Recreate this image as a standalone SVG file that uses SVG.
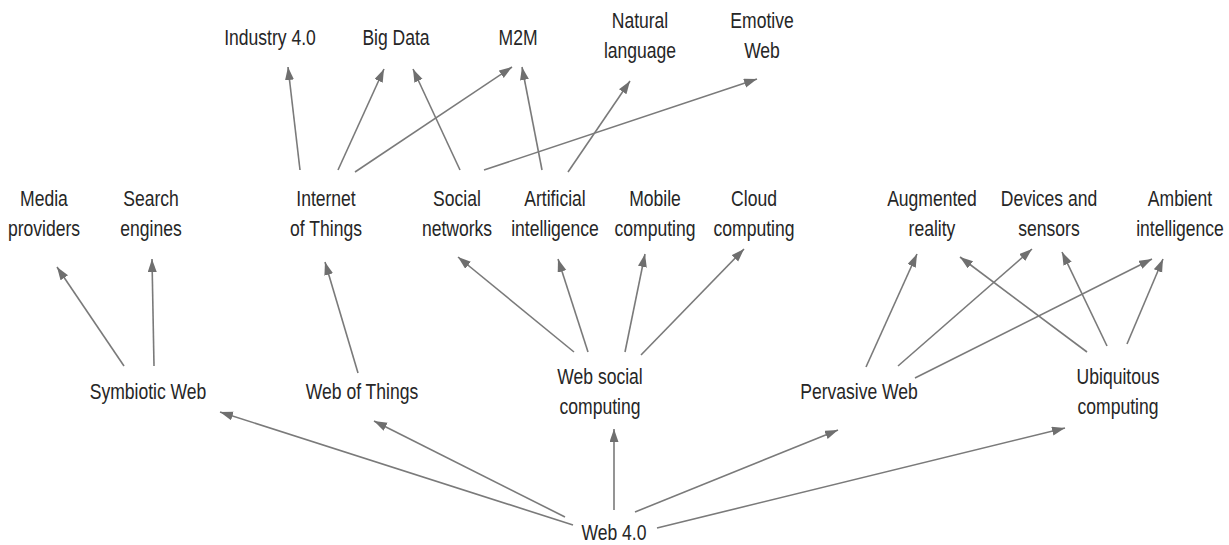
<svg xmlns="http://www.w3.org/2000/svg" width="1229" height="545" viewBox="0 0 1229 545">
<style>
text{font-family:"Liberation Sans",Arial,sans-serif;font-size:22.5px;fill:#262626;text-anchor:middle}
.c line{stroke:#7a7a7a;stroke-width:1.6;marker-end:url(#ah)}
</style>
<defs>
<marker id="ah" markerUnits="userSpaceOnUse" markerWidth="14" markerHeight="10" refX="13" refY="4.5" orient="auto">
<path d="M0,0 L13,4.5 L0,9 z" fill="#6f6f6f"/>
</marker>
</defs>
<rect width="1229" height="545" fill="#fff"/>
<g class="c" id="connectors">
<line x1="300" y1="170" x2="288" y2="67"/>
<line x1="338" y1="170" x2="384" y2="69"/>
<line x1="355" y1="172" x2="512" y2="67"/>
<line x1="460" y1="170" x2="413" y2="69"/>
<line x1="484" y1="170" x2="757" y2="79"/>
<line x1="542" y1="170" x2="522" y2="67"/>
<line x1="568" y1="172" x2="630" y2="81"/>
<line x1="124" y1="366" x2="57" y2="267"/>
<line x1="154" y1="366" x2="152" y2="259"/>
<line x1="358" y1="373" x2="325" y2="262"/>
<line x1="574" y1="352" x2="458" y2="257"/>
<line x1="588" y1="352" x2="558" y2="259"/>
<line x1="625" y1="352" x2="645" y2="254"/>
<line x1="641" y1="355" x2="744" y2="249"/>
<line x1="866" y1="367" x2="917" y2="254"/>
<line x1="898" y1="366" x2="1032" y2="249"/>
<line x1="915" y1="378" x2="1152" y2="259"/>
<line x1="1087" y1="352" x2="960" y2="257"/>
<line x1="1107" y1="346" x2="1062" y2="252"/>
<line x1="1127" y1="344" x2="1163" y2="259"/>
<line x1="573" y1="525" x2="220" y2="412"/>
<line x1="565" y1="517" x2="374" y2="421"/>
<line x1="614" y1="510" x2="614" y2="429"/>
<line x1="635" y1="512" x2="838" y2="430"/>
<line x1="657" y1="528" x2="1065" y2="428"/>
</g>
<g id="industry40"><text transform="translate(270,45) scale(0.78,1)">Industry 4.0</text></g>
<g id="bigdata"><text transform="translate(396,45) scale(0.78,1)">Big Data</text></g>
<g id="m2m"><text transform="translate(518,45) scale(0.78,1)">M2M</text></g>
<g id="naturallanguage"><text transform="translate(640,28) scale(0.78,1)">Natural</text><text transform="translate(640,58) scale(0.78,1)">language</text></g>
<g id="emotiveweb"><text transform="translate(762,28) scale(0.78,1)">Emotive</text><text transform="translate(762,58) scale(0.78,1)">Web</text></g>
<g id="mediaproviders"><text transform="translate(44,206) scale(0.78,1)">Media</text><text transform="translate(44,236) scale(0.78,1)">providers</text></g>
<g id="searchengines"><text transform="translate(151,206) scale(0.78,1)">Search</text><text transform="translate(151,236) scale(0.78,1)">engines</text></g>
<g id="iot"><text transform="translate(326,206) scale(0.78,1)">Internet</text><text transform="translate(326,236) scale(0.78,1)">of Things</text></g>
<g id="socialnetworks"><text transform="translate(457,206) scale(0.78,1)">Social</text><text transform="translate(457,236) scale(0.78,1)">networks</text></g>
<g id="ai"><text transform="translate(555,206) scale(0.78,1)">Artificial</text><text transform="translate(555,236) scale(0.78,1)">intelligence</text></g>
<g id="mobile"><text transform="translate(655,206) scale(0.78,1)">Mobile</text><text transform="translate(655,236) scale(0.78,1)">computing</text></g>
<g id="cloud"><text transform="translate(754,206) scale(0.78,1)">Cloud</text><text transform="translate(754,236) scale(0.78,1)">computing</text></g>
<g id="augmented"><text transform="translate(932,206) scale(0.78,1)">Augmented</text><text transform="translate(932,236) scale(0.78,1)">reality</text></g>
<g id="devices"><text transform="translate(1049,206) scale(0.78,1)">Devices and</text><text transform="translate(1049,236) scale(0.78,1)">sensors</text></g>
<g id="ambient"><text transform="translate(1180,206) scale(0.78,1)">Ambient</text><text transform="translate(1180,236) scale(0.78,1)">intelligence</text></g>
<g id="symbiotic"><text transform="translate(148,399) scale(0.78,1)">Symbiotic Web</text></g>
<g id="webofthings"><text transform="translate(362,399) scale(0.78,1)">Web of Things</text></g>
<g id="websocial"><text transform="translate(600,384) scale(0.78,1)">Web social</text><text transform="translate(600,414) scale(0.78,1)">computing</text></g>
<g id="pervasive"><text transform="translate(859,399) scale(0.78,1)">Pervasive Web</text></g>
<g id="ubiquitous"><text transform="translate(1118,384) scale(0.78,1)">Ubiquitous</text><text transform="translate(1118,414) scale(0.78,1)">computing</text></g>
<g id="web40"><text transform="translate(614,540) scale(0.78,1)">Web 4.0</text></g>
</svg>
